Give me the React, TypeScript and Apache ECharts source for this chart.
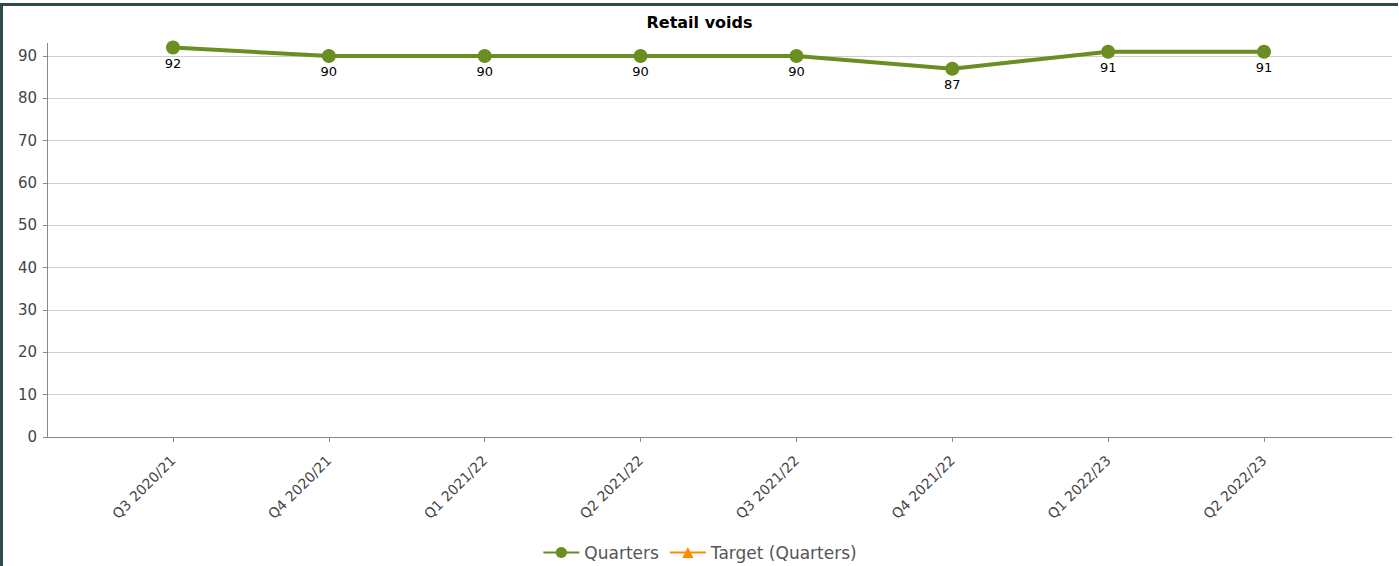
import React, { useEffect, useRef } from "react";
import * as echarts from "echarts";

const categories = ["Q3 2020/21", "Q4 2020/21", "Q1 2021/22", "Q2 2021/22", "Q3 2021/22", "Q4 2021/22", "Q1 2022/23", "Q2 2022/23"];
const quarters = [92, 90, 90, 90, 90, 87, 91, 91];
const target: (number | null)[] = [null, null, null, null, null, null, null, null];
const yTicks = { min: 0, max: 90, interval: 10 };

export default function App() {
  const ref = useRef<HTMLDivElement>(null);
  useEffect(() => {
    document.body.style.margin = "0";
    const chart = echarts.init(ref.current!, null, { renderer: "svg" });
    const font = "DejaVu Sans";
    chart.setOption({
      animation: false,
      backgroundColor: "#ffffff",
      title: {
        text: "Retail voids",
        left: "center",
        top: 9,
        textStyle: { fontFamily: font, fontSize: 16, fontWeight: "bold", color: "#000" },
      },
      graphic: [
        { type: "rect", shape: { x: 3, y: 3, width: 1395, height: 3 }, style: { fill: "#2d4b4b" } },
        { type: "rect", shape: { x: 0, y: 3, width: 3, height: 563 }, style: { fill: "#2d4b4b" } },
        { type: "line", shape: { x1: 47.5, y1: 43, x2: 47.5, y2: 57 }, style: { stroke: "#888", lineWidth: 1 } },
      ],
      legend: {
        bottom: 0,
        left: "center",
        itemWidth: 36,
        itemHeight: 14,
        itemGap: 10,
        textStyle: { fontFamily: font, fontSize: 17, color: "#555" },
        data: ["Quarters", "Target (Quarters)"],
      },
      grid: [
        { left: 47, right: 7, top: 56, bottom: 129 },
        { left: 173, right: 135, top: 56, bottom: 129 },
      ],
      xAxis: [
        {
          gridIndex: 0,
          type: "value",
          min: 0,
          max: 1,
          axisLine: { show: true, lineStyle: { color: "#888", width: 1 } },
          axisTick: { show: false },
          axisLabel: { show: false },
          splitLine: { show: false },
        },
        {
          gridIndex: 1,
          type: "category",
          data: categories,
          boundaryGap: false,
          axisLine: { show: false },
          axisTick: { show: true, length: 5, lineStyle: { color: "#888" } },
          axisLabel: {
            rotate: 45,
            margin: 21,
            interval: 0,
            padding: [24, 0, 0, 0],
            fontFamily: font,
            fontSize: 14,
            color: "#444",
          },
          splitLine: { show: false },
        },
      ],
      yAxis: [
        {
          gridIndex: 0,
          type: "value",
          min: yTicks.min,
          max: yTicks.max,
          interval: yTicks.interval,
          axisLine: { show: true, lineStyle: { color: "#888", width: 1 } },
          axisTick: { show: true, length: 4, lineStyle: { color: "#888" } },
          axisLabel: { margin: 10, fontFamily: font, fontSize: 15, color: "#444" },
          splitLine: { show: true, lineStyle: { color: "#cfcfcf", width: 1 } },
        },
        {
          gridIndex: 1,
          type: "value",
          min: yTicks.min,
          max: yTicks.max,
          interval: yTicks.interval,
          show: false,
          splitLine: { show: false },
        },
      ],
      series: [
        {
          name: "Quarters",
          type: "line",
          xAxisIndex: 1,
          yAxisIndex: 1,
          data: quarters,
          clip: false,
          color: "#6b8e23",
          symbol: "circle",
          symbolSize: 14,
          lineStyle: { width: 4, color: "#6b8e23" },
          itemStyle: { color: "#6b8e23" },
          label: {
            show: true,
            position: "bottom",
            distance: 2,
            fontFamily: font,
            fontSize: 13,
            color: "#000",
          },
        },
        {
          name: "Target (Quarters)",
          type: "line",
          xAxisIndex: 1,
          yAxisIndex: 1,
          data: target,
          color: "#ff8c00",
          symbol: "triangle",
          symbolSize: 14,
          lineStyle: { width: 4, color: "#ff8c00" },
          itemStyle: { color: "#ff8c00" },
        },
      ],
    });
    return () => chart.dispose();
  }, []);
  return <div ref={ref} style={{ position: "absolute", left: 0, top: 0, width: 1399, height: 566 }} />;
}
